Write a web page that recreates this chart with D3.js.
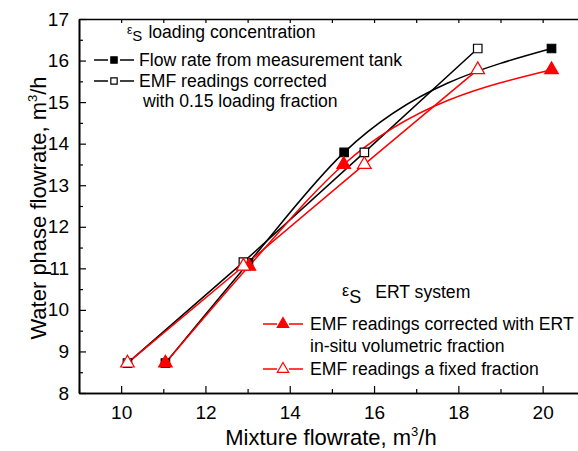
<!DOCTYPE html>
<html>
<head>
<meta charset="utf-8">
<script src="https://cdn.jsdelivr.net/npm/d3@7"></script>
<style>
  body { margin: 0; background: #fff; }
  svg { font-family: "Liberation Sans", Arial, sans-serif; }
</style>
</head>
<body>
<svg width="578" height="451"></svg>
<script>
/* chart data */

let tankX   = [11.05, 13.02, 15.29, 20.21];
let tankY   = [8.72, 11.13, 13.79, 16.29];
let fixedX  = [10.15, 12.9, 15.77, 18.46];
let fixedY  = [8.72, 11.15, 13.79, 16.29];
let ertX    = [11.05, 13.03, 15.28, 20.21];
let ertY    = [8.72, 11.05, 13.5, 15.78];
let ertFixX = [10.15, 12.9, 15.77, 18.46];
let ertFixY = [8.72, 11.05, 13.5, 15.78];

let xTicks = [10, 12, 14, 16, 18, 20];
let yTicks = [8, 9, 10, 11, 12, 13, 14, 15, 16, 17];

var svg = d3.select("svg");

let x = d3.scaleLinear().domain([9, 21]).range([79, 584.8]);
let y = d3.scaleLinear().domain([8, 17]).range([393, 19]);

function zip(xs, ys) {
  return xs.map((v, i) => [v, ys[i]]);
}

/* axes, ticks inward */
svg.append("g")
  .attr("transform", "translate(0,393)")
  .call(d3.axisBottom(x).tickValues(xTicks).tickSize(-7).tickPadding(13).tickSizeOuter(0))
  .call(g => g.selectAll("text").attr("font-size", "19px").attr("font-family", "Liberation Sans, Arial"));

svg.append("g")
  .attr("transform", "translate(0,393)")
  .call(d3.axisBottom(x).tickValues(d3.range(9, 21, 1).filter(v => v % 2 == 1)).tickSize(-4).tickFormat("").tickSizeOuter(0));

svg.append("g")
  .attr("transform", "translate(79,0)")
  .call(d3.axisLeft(y).tickValues(yTicks).tickSize(-7).tickPadding(10).tickSizeOuter(0))
  .call(g => g.selectAll("text").attr("font-size", "19px").attr("font-family", "Liberation Sans, Arial"));

svg.append("g")
  .attr("transform", "translate(79,0)")
  .call(d3.axisLeft(y).tickValues(d3.range(8.5, 17, 1)).tickSize(-4).tickFormat("").tickSizeOuter(0));

// top frame
svg.append("g")
  .attr("transform", "translate(0,19)")
  .call(d3.axisTop(x).tickValues(d3.range(10, 21, 1)).tickSize(-4).tickFormat("").tickSizeOuter(0));

svg.selectAll(".domain").attr("stroke-width", 1.6);
svg.selectAll(".tick line").attr("stroke-width", 1.2);

/* axis titles */
let xt = svg.append("text")
  .attr("x", 331).attr("y", 445)
  .attr("text-anchor", "middle")
  .attr("font-size", "22px");
xt.append("tspan").text("Mixture flowrate, m");
xt.append("tspan").attr("font-size", "13px").attr("dy", -9).text("3");
xt.append("tspan").attr("dy", 9).text("/h");

let yt = svg.append("text")
  .attr("transform", "translate(46,208) rotate(-90)")
  .attr("text-anchor", "middle")
  .attr("font-size", "22px");
yt.append("tspan").text("Water phase flowrate, m");
yt.append("tspan").attr("font-size", "13px").attr("dy", -9).text("3");
yt.append("tspan").attr("dy", 9).text("/h");

/* lines: filled series are splined, open ones straight */
let smooth = d3.line().x(d => x(d[0])).y(d => y(d[1])).curve(d3.curveMonotoneX);
let straight = d3.line().x(d => x(d[0])).y(d => y(d[1]));

svg.append("path").attr("d", smooth(zip(tankX, tankY)))
  .attr("fill", "none").attr("stroke", "#000").attr("stroke-width", 1.5);
svg.append("path").attr("d", straight(zip(fixedX, fixedY)))
  .attr("fill", "none").attr("stroke", "#000").attr("stroke-width", 1.5);
svg.append("path").attr("d", smooth(zip(ertX, ertY)))
  .attr("fill", "none").attr("stroke", "red").attr("stroke-width", 1.5);
svg.append("path").attr("d", straight(zip(ertFixX, ertFixY)))
  .attr("fill", "none").attr("stroke", "red").attr("stroke-width", 1.5);

/* markers */
let sq = d3.symbol().type(d3.symbolSquare).size(72);
let tri = d3.symbol().type(d3.symbolTriangle).size(80);

function drawMarks(pts, sym, fill, stroke) {
  svg.append("g").selectAll("path")
    .data(pts)
    .enter().append("path")
    .attr("d", sym)
    .attr("transform", d => "translate(" + x(d[0]) + "," + y(d[1]) + ")")
    .attr("fill", fill)
    .attr("stroke", stroke)
    .attr("stroke-width", 1.2);
}

drawMarks(zip(tankX, tankY), sq, "#000", "#000");
drawMarks(zip(fixedX, fixedY), sq, "#fff", "#000");
drawMarks(zip(ertX, ertY), tri, "red", "red");
drawMarks(zip(ertFixX, ertFixY), tri, "#fff", "red");

/* legends */
function legendRow(lx, ly, sym, fill, stroke, symSize) {
  let g = svg.append("g");
  g.append("line").attr("x1", lx).attr("x2", lx + 14).attr("y1", ly).attr("y2", ly)
    .attr("stroke", stroke).attr("stroke-width", 1.5);
  g.append("line").attr("x1", lx + 26).attr("x2", lx + 40).attr("y1", ly).attr("y2", ly)
    .attr("stroke", stroke).attr("stroke-width", 1.5);
  g.append("path").attr("d", d3.symbol().type(sym).size(symSize))
    .attr("transform", "translate(" + (lx + 20) + "," + ly + ")")
    .attr("fill", fill).attr("stroke", stroke).attr("stroke-width", 1.2);
}

function legendText(tx, ty, str) {
  svg.append("text").attr("x", tx).attr("y", ty).attr("font-size", "17.6px").text(str);
}

// top legend
let h1 = svg.append("text").attr("x", 127).attr("y", 38).attr("font-size", "17.6px");
h1.append("tspan").attr("font-size", "12px").attr("dy", -4).text("ε");
h1.append("tspan").attr("font-size", "15px").attr("dy", 7).text("S");
h1.append("tspan").attr("dy", -3).attr("dx", 6).text("loading concentration");

legendRow(94, 60, d3.symbolSquare, "#000", "#000", 40);
legendText(139, 66, "Flow rate from measurement tank");
legendRow(94, 81, d3.symbolSquare, "#fff", "#000", 40);
legendText(139, 87, "EMF readings corrected");
legendText(143, 107, "with 0.15 loading fraction");

// bottom legend
let h2 = svg.append("text").attr("x", 342).attr("y", 298).attr("font-size", "17.6px");
h2.append("tspan").attr("font-size", "16px").attr("dy", -2).text("ε");
h2.append("tspan").attr("font-size", "18px").attr("dy", 7).text("S");
h2.append("tspan").attr("dy", -5).attr("dx", 14).text("ERT system");

legendRow(263, 324, d3.symbolTriangle, "red", "red", 56);
legendText(310, 330, "EMF readings corrected with ERT");
legendText(310, 352, "in-situ volumetric fraction");
legendRow(263, 369, d3.symbolTriangle, "#fff", "red", 56);
legendText(310, 375, "EMF readings a fixed fraction");
</script>
</body>
</html>
